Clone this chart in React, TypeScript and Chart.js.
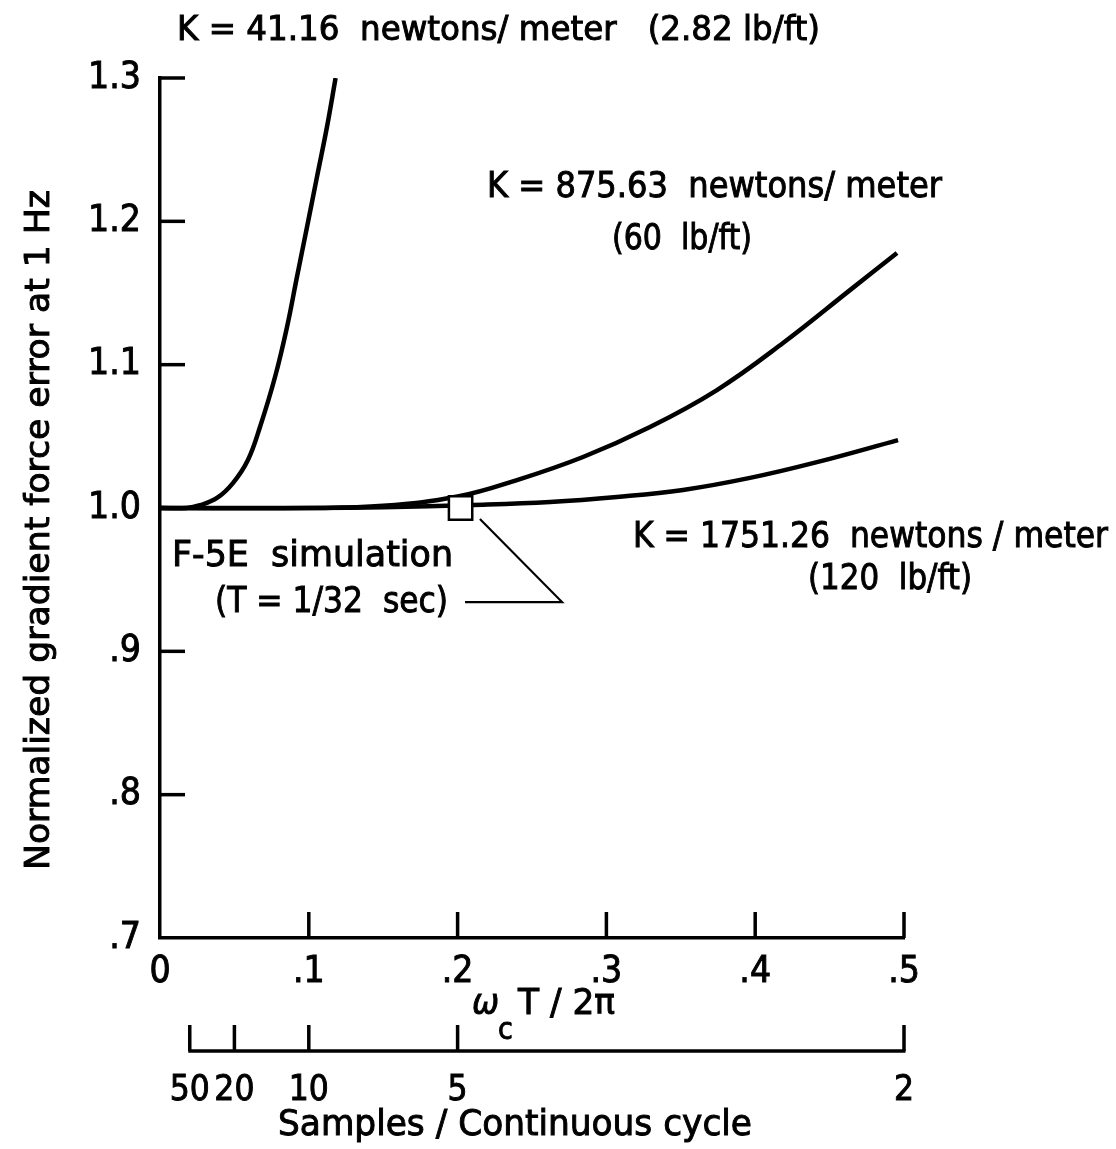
import React, { useEffect, useRef } from 'react';
import { Chart, registerables } from 'chart.js';

Chart.register(...registerables);

const FONT = "'DejaVu Sans Condensed', 'DejaVu Sans', sans-serif";

// Axis ticks
const yTickValues = [0.7, 0.8, 0.9, 1.0, 1.1, 1.2, 1.3];
const yTickLabels = ['.7', '.8', '.9', '1.0', '1.1', '1.2', '1.3'];
const xTickValues = [0, 0.1, 0.2, 0.3, 0.4, 0.5];
const xTickLabels = ['0', '.1', '.2', '.3', '.4', '.5'];
const samplesPerCycle = [50, 20, 10, 5, 2];
const samplesLabels = ['50', '20', '10', '5', '2'];

// K = 41.16 N/m (2.82 lb/ft)
const k41X = [0, 0.018, 0.0269, 0.0383, 0.049, 0.0591, 0.0672, 0.0773, 0.0853, 0.092, 0.0988, 0.1055, 0.1122, 0.118];
const k41Y = [1.0, 1.0, 1.002, 1.007, 1.0174, 1.0335, 1.0565, 1.0914, 1.126, 1.161, 1.196, 1.231, 1.2658, 1.3];

// K = 875.63 N/m (60 lb/ft)
const k875X = [0, 0.1, 0.15, 0.2, 0.2399, 0.2843, 0.3293, 0.3743, 0.4187, 0.4637, 0.4953];
const k875Y = [1.0, 1.0, 1.0015, 1.008, 1.0195, 1.0356, 1.0565, 1.0823, 1.1151, 1.152, 1.1779];

// K = 1751.26 N/m (120 lb/ft)
const k1751X = [0, 0.1, 0.15, 0.2104, 0.2621, 0.3071, 0.3515, 0.3965, 0.4415, 0.496];
const k1751Y = [1.0, 1.0, 1.0005, 1.0021, 1.0042, 1.0077, 1.0126, 1.021, 1.032, 1.0474];

// F-5E simulation point (T = 1/32 sec)
const simX = [0.202];
const simY = [1.0];

// Leader line from label to simulation point
const leaderX = [0.205, 0.2702, 0.215];
const leaderY = [0.9344, 0.9344, 0.9923];

const pts = (xs: number[], ys: number[]) => xs.map((x, i) => ({ x, y: ys[i] }));

// draw text fitted horizontally to a target width
function drawText(ctx: CanvasRenderingContext2D, s: string, x: number, cy: number, size: number, width = 0, italic = false, align: CanvasTextAlign = 'left') {
  ctx.save();
  ctx.font = `${italic ? 'italic ' : ''}${size}px ${FONT}`;
  ctx.textBaseline = 'middle';
  ctx.textAlign = align;
  ctx.fillStyle = '#000';
  ctx.strokeStyle = '#000';
  ctx.lineWidth = 0.9;
  const w = ctx.measureText(s).width;
  const sx = width > 0 ? width / w : 1;
  ctx.translate(x, cy);
  ctx.scale(sx, 1);
  ctx.fillText(s, 0, 0);
  ctx.strokeText(s, 0, 0);
  ctx.restore();
}

const decorPlugin = {
  id: 'decor',
  afterDraw(chart: any) {
    const ctx: CanvasRenderingContext2D = chart.ctx;
    const xs = chart.scales.x;
    const ys = chart.scales.y;
    const x2 = chart.scales.x2;
    ctx.save();
    ctx.strokeStyle = '#000';
    ctx.lineWidth = 3.5;
    ctx.lineCap = 'butt';
    // inward y ticks
    yTickValues.forEach((v) => {
      if (v <= 0.7) return;
      const py = ys.getPixelForValue(v);
      ctx.beginPath();
      ctx.moveTo(xs.left, py);
      ctx.lineTo(xs.left + 25, py);
      ctx.stroke();
    });
    // inward x ticks
    xTickValues.forEach((v) => {
      if (v <= 0) return;
      const px = xs.getPixelForValue(v);
      ctx.beginPath();
      ctx.moveTo(px, ys.bottom);
      ctx.lineTo(px, ys.bottom - 26);
      ctx.stroke();
    });
    // secondary axis line and ticks
    const ly = x2.top;
    const v0 = 1 / samplesPerCycle[0];
    const v1 = 1 / samplesPerCycle[samplesPerCycle.length - 1];
    ctx.beginPath();
    ctx.moveTo(x2.getPixelForValue(v0) - 1.5, ly);
    ctx.lineTo(x2.getPixelForValue(v1) + 1.5, ly);
    ctx.stroke();
    samplesPerCycle.forEach((n) => {
      const px = x2.getPixelForValue(1 / n);
      ctx.beginPath();
      ctx.moveTo(px, ly);
      ctx.lineTo(px, ly - 26);
      ctx.stroke();
    });
    ctx.restore();

    // y axis title
    ctx.save();
    ctx.translate(40, 530);
    ctx.rotate(-Math.PI / 2);
    drawText(ctx, 'Normalized gradient force error at 1 Hz', 0, 0, 34, 680, false, 'center');
    ctx.restore();

    // x axis title: ωc T / 2π
    drawText(ctx, 'ω', 472, 1005, 36, 0, true);
    drawText(ctx, 'c', 498, 1031, 30);
    drawText(ctx, 'T / 2π', 518, 1005, 36, 97);

    // secondary axis title
    drawText(ctx, 'Samples / Continuous cycle', 515, 1126, 36, 474, false, 'center');

    // curve labels
    drawText(ctx, 'K = 41.16  newtons/ meter   (2.82 lb/ft)', 177, 31, 33, 643);
    drawText(ctx, 'K = 875.63  newtons/ meter', 487, 188, 35, 455);
    drawText(ctx, '(60  lb/ft)', 612, 240, 35, 140);
    drawText(ctx, 'K = 1751.26  newtons / meter', 633, 538, 35, 475);
    drawText(ctx, '(120  lb/ft)', 808, 580, 35, 164);
    drawText(ctx, 'F-5E  simulation', 172, 557, 36, 281);
    drawText(ctx, '(T = 1/32  sec)', 215, 603, 35, 233);
  },
};

export default function App() {
  const ref = useRef<HTMLCanvasElement | null>(null);
  useEffect(() => {
    if (!ref.current) return;
    const curve = (xs: number[], ys: number[]) => ({
      data: pts(xs, ys),
      showLine: true,
      borderColor: '#000',
      borderWidth: 4.5,
      pointRadius: 0,
      tension: 0.4,
      fill: false,
      order: 2,
    });
    const tickFont = { family: FONT, size: 37 };
    const chart = new Chart(ref.current, {
      type: 'scatter',
      data: {
        datasets: [
          {
            data: pts(simX, simY),
            pointStyle: 'rect',
            pointRadius: 16.5,
            pointBackgroundColor: '#fff',
            pointBorderColor: '#000',
            pointBorderWidth: 2.5,
            showLine: false,
            order: 0,
          } as any,
          {
            data: pts(leaderX, leaderY),
            showLine: true,
            borderColor: '#000',
            borderWidth: 2.2,
            pointRadius: 0,
            tension: 0,
            order: 1,
          } as any,
          curve(k41X, k41Y),
          curve(k875X, k875Y),
          curve(k1751X, k1751Y),
        ],
      },
      options: {
        animation: false,
        responsive: false,
        devicePixelRatio: 1,
        events: [],
        layout: { padding: { left: 0, top: 78, right: 212, bottom: 0 } },
        plugins: { legend: { display: false }, tooltip: { enabled: false }, title: { display: false } },
        scales: {
          x: {
            type: 'linear',
            position: 'bottom',
            weight: 0,
            min: 0,
            max: 0.5,
            afterBuildTicks: (s: any) => { s.ticks = xTickValues.map((v) => ({ value: v })); },
            afterFit: (s: any) => { s.height = 113; },
            grid: { display: false, drawTicks: false },
            border: { display: true, color: '#000', width: 3.5 },
            ticks: {
              autoSkip: false, maxRotation: 0, minRotation: 0, padding: 12, color: '#000',
              textStrokeColor: '#000', textStrokeWidth: 0.9,
              font: tickFont,
              callback: (_v: any, i: number) => xTickLabels[i],
            },
          },
          x2: {
            type: 'linear',
            position: 'bottom',
            weight: 1,
            min: 0,
            max: 0.5,
            afterBuildTicks: (s: any) => { s.ticks = samplesPerCycle.map((n) => ({ value: 1 / n })); },
            afterFit: (s: any) => { s.height = 98; },
            grid: { display: false, drawTicks: false },
            border: { display: false },
            ticks: {
              autoSkip: false, maxRotation: 0, minRotation: 0, padding: 19, color: '#000',
              textStrokeColor: '#000', textStrokeWidth: 0.9,
              font: { family: FONT, size: 35 },
              callback: (_v: any, i: number) => samplesLabels[i],
            },
          },
          y: {
            type: 'linear',
            position: 'left',
            min: 0.7,
            max: 1.3,
            afterBuildTicks: (s: any) => { s.ticks = yTickValues.map((v) => ({ value: v })); },
            afterFit: (s: any) => { s.width = 160; },
            grid: { display: false, drawTicks: false },
            border: { display: true, color: '#000', width: 3.5 },
            ticks: {
              autoSkip: false, padding: 19, color: '#000',
              textStrokeColor: '#000', textStrokeWidth: 0.9,
              font: tickFont,
              callback: (_v: any, i: number) => yTickLabels[i],
            },
          },
        },
      },
      plugins: [decorPlugin],
    } as any);
    return () => chart.destroy();
  }, []);
  return (
    <div style={{ position: 'absolute', left: 0, top: 0, width: 1116, height: 1149, background: '#fff' }}>
      <canvas ref={ref} width={1116} height={1149} style={{ width: 1116, height: 1149, display: 'block' }} />
    </div>
  );
}
